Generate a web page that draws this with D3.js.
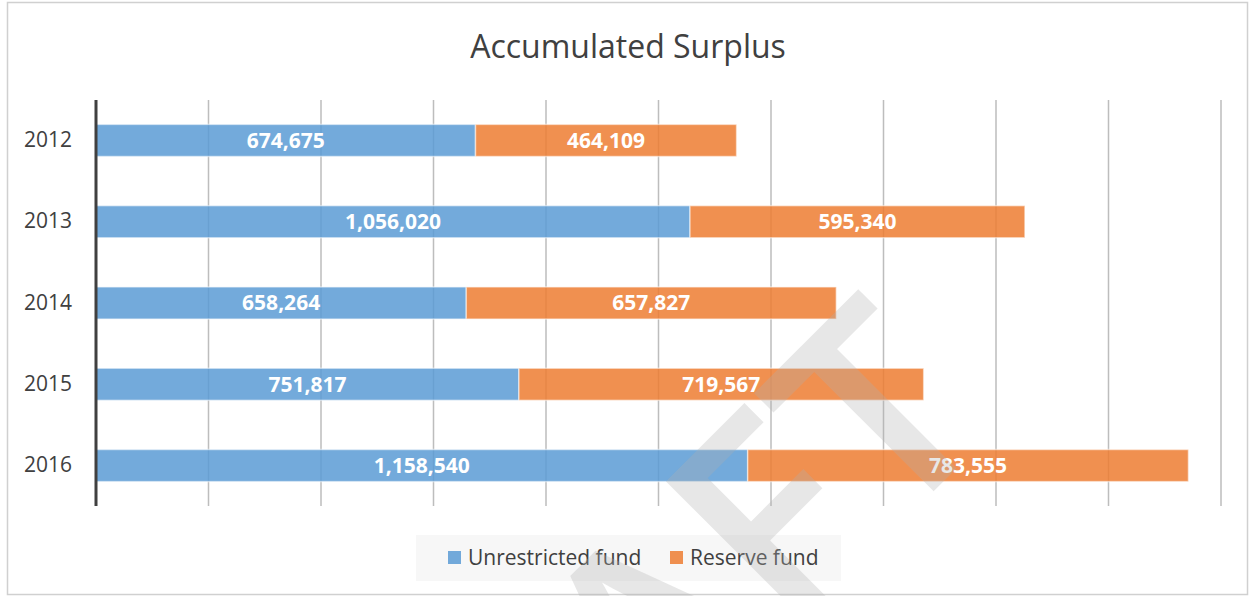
<!DOCTYPE html>
<html>
<head>
<meta charset="utf-8">
<script src="https://cdn.jsdelivr.net/npm/d3@7"></script>
<style>
  body { margin: 0; background: #fff; }
  svg { display: block; font-family: "Open Sans", sans-serif; }
</style>
</head>
<body>
<svg width="1250" height="596"></svg>
<script>
var years = ["2012", "2013", "2014", "2015", "2016"];
var unrestricted = [674675, 1056020, 658264, 751817, 1158540];
var reserve = [464109, 595340, 657827, 719567, 783555];
var seriesNames = ["Unrestricted fund", "Reserve fund"];
var seriesColors = ["#5B9BD5", "#ED7D31"];
var xTicks = d3.range(0, 2000001, 200000);

var svg = d3.select("svg");
var margin = {top: 100, right: 29, bottom: 90, left: 96};
var width = +svg.attr("width") - margin.left - margin.right;
var height = +svg.attr("height") - margin.top - margin.bottom;

// chart frame
svg.append("rect")
  .attr("x", 7.5).attr("y", 2.5)
  .attr("width", 1240).attr("height", 592)
  .attr("fill", "#fff")
  .attr("stroke", "#d0d0d0")
  .attr("stroke-width", 1.5);

svg.append("text")
  .attr("x", 628)
  .attr("y", 58)
  .attr("text-anchor", "middle")
  .attr("fill", "#404040")
  .attr("font-size", 32)
  .text("Accumulated Surplus");

var g = svg.append("g").attr("transform", "translate(" + margin.left + "," + margin.top + ")");

var x = d3.scaleLinear().domain([0, 2000000]).range([0, width]);
var y = d3.scaleBand().domain(years).range([0, height]).paddingInner(0.605).paddingOuter(0.3);

// gridlines
g.append("g")
  .selectAll("line")
  .data(xTicks.slice(1))
  .enter().append("line")
  .attr("x1", function(d) { return x(d); })
  .attr("x2", function(d) { return x(d); })
  .attr("y1", 0)
  .attr("y2", height)
  .attr("stroke", "#bdbdbd")
  .attr("stroke-width", 1.5);

var rows = years.map(function(yr, i) {
  return {year: yr, vals: [unrestricted[i], reserve[i]]};
});

var stack = d3.stack().keys([0, 1]).value(function(d, k) { return d.vals[k]; });
var layers = stack(rows);

var layer = g.selectAll(".layer")
  .data(layers)
  .enter().append("g")
  .attr("class", "layer");

layer.selectAll("rect")
  .data(function(d) { return d.map(function(p) { return {s: d.key, p: p}; }); })
  .enter().append("rect")
  .attr("x", function(d) { return x(d.p[0]); })
  .attr("y", function(d) { return y(d.p.data.year); })
  .attr("width", function(d) { return x(d.p[1]) - x(d.p[0]); })
  .attr("height", y.bandwidth())
  .attr("fill", function(d) { return seriesColors[d.s]; })
  .attr("fill-opacity", 0.85)
  .attr("stroke", "#fff")
  .attr("stroke-opacity", 0.5)
  .attr("stroke-width", 1.5);

var fmt = d3.format(",");
layer.selectAll("text")
  .data(function(d) { return d.map(function(p) { return {s: d.key, p: p}; }); })
  .enter().append("text")
  .attr("x", function(d) { return (x(d.p[0]) + x(d.p[1])) / 2; })
  .attr("y", function(d) { return y(d.p.data.year) + y.bandwidth() / 2; })
  .attr("dy", "0.35em")
  .attr("text-anchor", "middle")
  .attr("fill", "#fff")
  .attr("font-weight", "bold")
  .attr("font-size", 21)
  .text(function(d) { return fmt(d.p.data.vals[d.s]); });

// category axis
var yAxis = g.append("g").call(d3.axisLeft(y).tickSize(0).tickPadding(24));
yAxis.select(".domain").remove();
yAxis.selectAll("text")
  .attr("font-family", "Open Sans, sans-serif")
  .attr("font-size", 21)
  .attr("fill", "#404040");

g.append("line")
  .attr("x1", 0).attr("x2", 0)
  .attr("y1", 0).attr("y2", height)
  .attr("stroke", "#404040")
  .attr("stroke-width", 3);

// legend
var legend = svg.append("g");
legend.append("rect")
  .attr("x", 416).attr("y", 535)
  .attr("width", 425).attr("height", 46)
  .attr("fill", "#f7f7f7");

var legendX = [448, 670];
seriesNames.forEach(function(name, i) {
  legend.append("rect")
    .attr("x", legendX[i]).attr("y", 551)
    .attr("width", 13).attr("height", 13)
    .attr("fill", seriesColors[i])
    .attr("fill-opacity", 0.85);
  legend.append("text")
    .attr("x", legendX[i] + 20)
    .attr("y", 565)
    .attr("fill", "#404040")
    .attr("font-size", 21)
    .text(name);
});

// watermark
svg.append("text")
  .attr("transform", "translate(1000,425) rotate(-45)")
  .attr("text-anchor", "end")
  .attr("font-size", 275)
  .attr("font-weight", 600)
  .attr("fill", "#b0b0b0")
  .attr("fill-opacity", 0.3)
  .text("DRAFT");
</script>
</body>
</html>
